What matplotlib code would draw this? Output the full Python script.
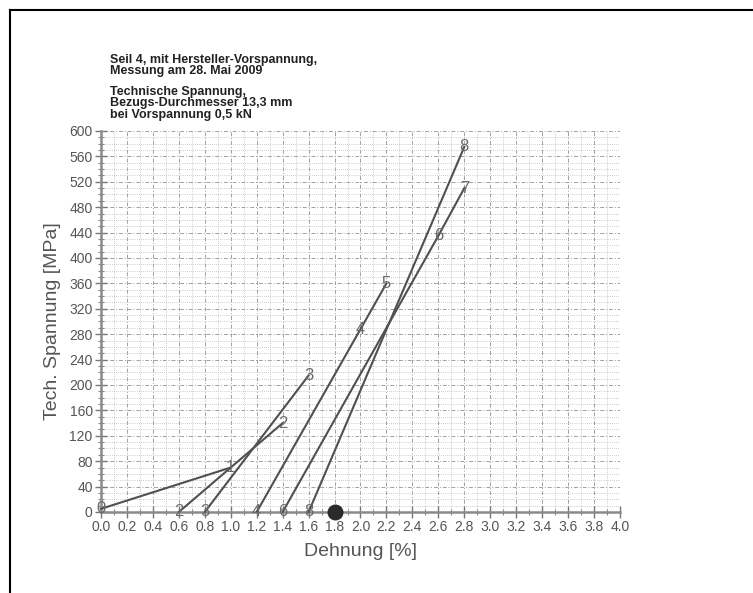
import matplotlib
matplotlib.use("Agg")
import matplotlib.pyplot as plt
from matplotlib.lines import Line2D
from matplotlib.ticker import MultipleLocator
import numpy as np

plt.rcParams['font.family'] = ['Liberation Sans', 'DejaVu Sans']

# Dehnung [%] / Spannung [MPa] der einzelnen Belastungsstufen
x_a = [0.0, 1.0]
y_a = [5, 70]
lab_a = ["0", "1"]

x_b = [0.6, 1.4]
y_b = [0, 140]
lab_b = ["2", "2"]

x_c = [0.8, 1.6]
y_c = [0, 215]
lab_c = ["3", "3"]

x_d = [1.2, 2.0, 2.2]
y_d = [0, 288, 360]
lab_d = ["4", "4", "5"]

x_e = [1.4, 2.6, 2.8]
y_e = [0, 435, 510]
lab_e = ["6", "6", "7"]

x_f = [1.6, 2.8]
y_f = [0, 575]
lab_f = ["8", "8"]

# bleibende Dehnung nach Entlastung
x_end = [1.8]
y_end = [0]

curves = [(x_a, y_a, lab_a), (x_b, y_b, lab_b), (x_c, y_c, lab_c),
          (x_d, y_d, lab_d), (x_e, y_e, lab_e), (x_f, y_f, lab_f)]

fig = plt.figure(figsize=(7.53, 5.93), dpi=100)
ax = fig.add_axes([0.1341, 0.1366, 0.6893, 0.6425])

ax.set_xlim(0, 4.0)
ax.set_ylim(0, 600)

ax.xaxis.set_major_locator(MultipleLocator(0.2))
ax.xaxis.set_minor_locator(MultipleLocator(0.1))
ax.yaxis.set_major_locator(MultipleLocator(40))
ax.yaxis.set_minor_locator(MultipleLocator(10))
ax.set_xticklabels([f"{v:.1f}" for v in ax.get_xticks()])

ax.grid(which='major', color='#a0a0a0', linestyle=(0, (4, 2, 1, 2)), linewidth=0.7)
ax.grid(which='minor', color='#bcbcbc', linestyle=(0, (1, 1.5)), linewidth=0.6)
ax.set_axisbelow(True)

for s in ['top', 'right']:
    ax.spines[s].set_visible(False)
for s in ['left', 'bottom']:
    ax.spines[s].set_color('#8a8a8a')
    ax.spines[s].set_linewidth(1.8)

ax.tick_params(which='major', direction='inout', length=8, width=1.0,
               color='#777777', labelcolor='#555555', labelsize=10, pad=2)
ax.tick_params(which='minor', direction='inout', length=4, width=0.8, color='#888888')

for xs, ys, labs in curves:
    ax.plot(xs, ys, color='#505050', linewidth=1.5, zorder=3, clip_on=False)
    for x, y, t in zip(xs, ys, labs):
        ax.text(x, y, t, ha='center', va='center', fontsize=12,
                color='#6a6a6a', zorder=4, clip_on=False)

ax.scatter(x_end, y_end, s=110, color='#2a2a2a', zorder=5, clip_on=False)

ax.set_xlabel("Dehnung [%]", fontsize=14, color='#555555', labelpad=6)
ax.set_ylabel("Tech. Spannung [MPa]", fontsize=14, color='#555555', labelpad=6)

fig.text(110 / 753, 1 - 54 / 593,
         "Seil 4, mit Hersteller-Vorspannung,\nMessung am 28. Mai 2009",
         fontsize=9, fontweight='bold', color='#222222', va='top', ha='left',
         linespacing=0.92)
fig.text(110 / 753, 1 - 86 / 593,
         "Technische Spannung,\nBezugs-Durchmesser 13,3 mm\nbei Vorspannung 0,5 kN",
         fontsize=9, fontweight='bold', color='#222222', va='top', ha='left',
         linespacing=0.92)

# Rahmen oben und links
fig.add_artist(Line2D([10 / 753, 1], [1 - 10 / 593, 1 - 10 / 593],
                      color='black', linewidth=1.5))
fig.add_artist(Line2D([10 / 753, 10 / 753], [0, 1 - 10 / 593],
                      color='black', linewidth=1.5))

fig.savefig("out.png", dpi=100)
